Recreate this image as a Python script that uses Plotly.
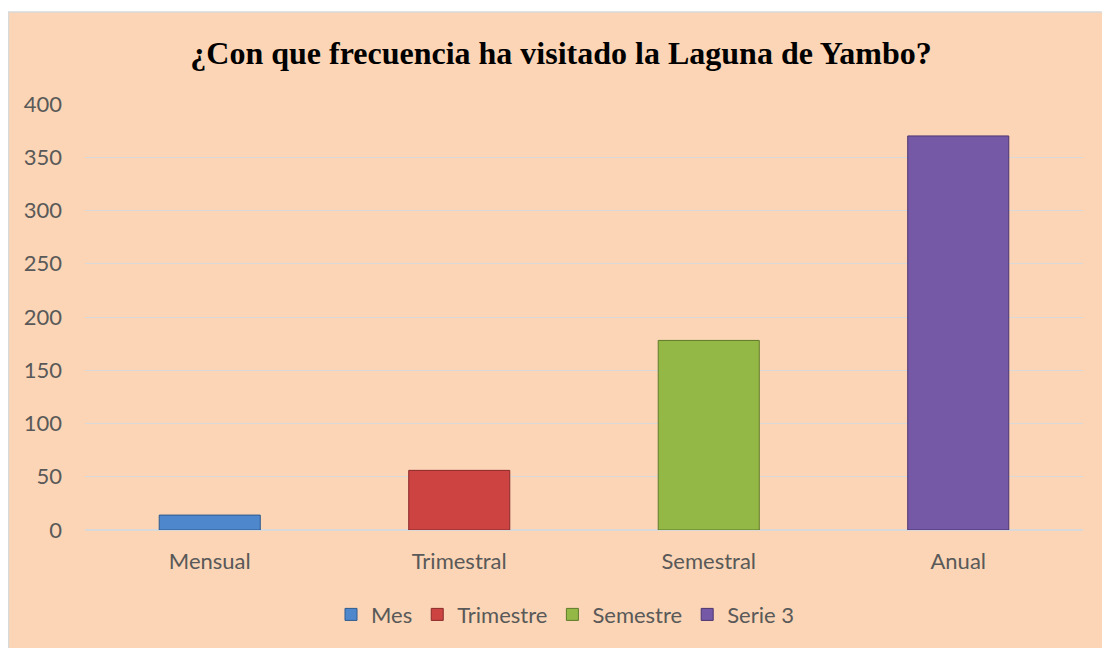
import plotly.graph_objects as go

# Data
categories = ["Mensual", "Trimestral", "Semestral", "Anual"]
series_names = ["Mes", "Trimestre", "Semestre", "Serie 3"]
values = [14, 56, 178, 370]
y_ticks = [0, 50, 100, 150, 200, 250, 300, 350, 400]

colors = ["#4F87CC", "#CC4342", "#93B846", "#7659A6"]
edges = ["#2E5A8E", "#8A2A29", "#5F7A2A", "#4B3570"]

PEACH = "#FBD5B5"
TEXT = "#595959"

# The page body adds an 8px margin, so the figure is 8px smaller each way.
W, H = 1102, 640
L, R, T, B = 77, 27, 96, 116
PW, PH = W - L - R, H - T - B

fig = go.Figure()

# One series per category, so each bar sits centred on its label.
for cat, name, val, color, edge in zip(categories, series_names, values, colors, edges):
    fig.add_trace(
        go.Bar(
            x=[cat],
            y=[val],
            name=name,
            width=0.405,
            marker=dict(color=color, line=dict(color=edge, width=1)),
        )
    )

fig.update_layout(
    width=W,
    height=H,
    barmode="overlay",
    paper_bgcolor="white",
    plot_bgcolor=PEACH,
    margin=dict(l=L, r=R, t=T, b=B),
    title=dict(
        text="¿Con que frecuencia ha visitado la Laguna de Yambo?",
        x=553 / W,
        xanchor="center",
        y=1 - 45 / H,
        yanchor="middle",
        font=dict(family="Liberation Serif", size=32, color="black", weight="bold"),
    ),
    font=dict(family="Lato", color=TEXT, size=22),
    xaxis=dict(
        categoryorder="array",
        categoryarray=categories,
        showgrid=False,
        showline=False,
        ticks="",
        ticklabelstandoff=16,
        tickfont=dict(size=22, color=TEXT),
    ),
    yaxis=dict(
        range=[0, 400],
        tickvals=y_ticks,
        showgrid=True,
        gridcolor="#D9D9D9",
        gridwidth=1,
        zeroline=True,
        zerolinecolor="#D9D9D9",
        showline=False,
        ticks="",
        ticklabelstandoff=22,
        tickfont=dict(size=22, color=TEXT),
    ),
    legend=dict(
        orientation="h",
        x=(557 - L) / PW,
        xanchor="center",
        y=(524 - 609) / PH,
        yanchor="middle",
        font=dict(size=22, color=TEXT),
        bgcolor="rgba(0,0,0,0)",
        itemwidth=30,
    ),
    showlegend=True,
)

# Peach chart area with a light grey border, as in the reference.
fig.add_shape(
    type="rect",
    xref="paper",
    yref="paper",
    x0=(0.5 - L) / PW,
    x1=(W + 10 - L) / PW,
    y0=(524 - H - 10) / PH,
    y1=(524 - 3.5) / PH,
    fillcolor=PEACH,
    line=dict(color="#D9D9D9", width=1.5),
    layer="below",
)

fig.write_html("out.html")
